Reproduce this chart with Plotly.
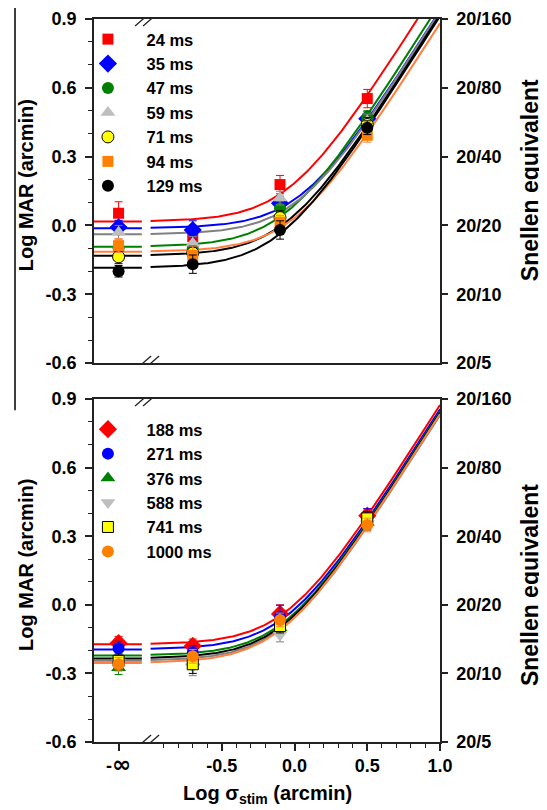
import numpy as np
import plotly.graph_objects as go

# ---------------- data ----------------
x_points = [-1.21, -0.70, -0.10, 0.50]          # first point plotted at the "-inf" position
x_tickvals = [-1.21, -0.5, 0.0, 0.5, 1.0]
x_ticktext = ["-<span style=\"font-family:DejaVu Sans;font-size:23px\">\u221e</span>",
              "-0.5", "0.0", "0.5", "1.0"]
x_minor = [-0.9, -0.8, -0.7, -0.6, -0.4, -0.3, -0.2, -0.1, 0.1, 0.2, 0.3, 0.4,
           0.6, 0.7, 0.8, 0.9]
y_tickvals = [-0.6, -0.3, 0.0, 0.3, 0.6, 0.9]
y_ticktext = ["-0.6", "-0.3", "0.0", "0.3", "0.6", "0.9"]
y_minor = [-0.5, -0.4, -0.2, -0.1, 0.1, 0.2, 0.4, 0.5, 0.7, 0.8]
snellen_denoms = [5, 10, 20, 40, 80, 160]
snellen_text = ["20/5", "20/10", "20/20", "20/40", "20/80", "20/160"]

# top panel (short durations)
top_names = ["24 ms", "35 ms", "47 ms", "59 ms", "71 ms", "94 ms", "129 ms"]
top_24 = [0.053, -0.049, 0.178, 0.553]
top_35 = [-0.008, -0.020, 0.097, 0.465]
top_47 = [-0.100, -0.100, 0.075, 0.470]
top_59 = [-0.030, -0.078, 0.119, 0.455]
top_71 = [-0.137, -0.120, 0.034, 0.440]
top_94 = [-0.088, -0.130, 0.014, 0.393]
top_129 = [-0.200, -0.169, -0.020, 0.426]
top_err_24 = [0.05, 0.03, 0.04, 0.04]
top_err_35 = [0.03, 0.04, 0.03, 0.03]
top_err_47 = [0.03, 0.03, 0.03, 0.03]
top_err_59 = [0.03, 0.03, 0.03, 0.03]
top_err_71 = [0.03, 0.03, 0.03, 0.03]
top_err_94 = [0.03, 0.04, 0.03, 0.03]
top_err_129 = [0.025, 0.04, 0.04, 0.03]
# fit parameters: floor (log MAR at sigma=0) and log10 slope factor
top_fit_floor = [0.017, -0.012, -0.093, -0.039, -0.132, -0.115, -0.185]
top_fit_logk = [0.050, -0.066, -0.035, -0.069, -0.082, -0.121, -0.089]

# bottom panel (long durations)
bot_names = ["188 ms", "271 ms", "376 ms", "588 ms", "741 ms", "1000 ms"]
bot_188 = [-0.168, -0.180, -0.040, 0.390]
bot_271 = [-0.190, -0.210, -0.052, 0.380]
bot_376 = [-0.275, -0.250, -0.100, 0.360]
bot_588 = [-0.250, -0.270, -0.132, 0.355]
bot_741 = [-0.245, -0.260, -0.093, 0.378]
bot_1000 = [-0.260, -0.225, -0.066, 0.349]
bot_err_188 = [0.03, 0.03, 0.04, 0.03]
bot_err_271 = [0.03, 0.03, 0.05, 0.04]
bot_err_376 = [0.03, 0.03, 0.03, 0.03]
bot_err_588 = [0.03, 0.04, 0.03, 0.03]
bot_err_741 = [0.03, 0.04, 0.03, 0.03]
bot_err_1000 = [0.03, 0.03, 0.03, 0.03]
bot_fit_floor = [-0.173, -0.195, -0.222, -0.245, -0.235, -0.255]
bot_fit_logk = [-0.128, -0.147, -0.157, -0.172, -0.162, -0.167]

# ---------------- styles ----------------
X_RANGE = [-1.379, 1.0]
Y_RANGE = [-0.6, 0.9]
BREAK_X = -1.014          # axis break (between -inf and finite values)
GAP_L, GAP_R = -1.05, -0.99
FONT = "Liberation Sans, Arial, sans-serif"
AX = "#222222"
PAD = "\u00a0"            # extra gap between legend symbol and label

top_styles = [
    dict(symbol="square", color="#FF0000", line="#FF0000", size=11, edge=None),
    dict(symbol="diamond", color="#0000FF", line="#0000FF", size=14, edge=None),
    dict(symbol="circle", color="#008000", line="#008000", size=12, edge=None),
    dict(symbol="triangle-up", color="#BEBEBE", line="#808080", size=13, edge=None),
    dict(symbol="circle", color="#FFFF00", line="#000000", size=12, edge="#000000"),
    dict(symbol="square", color="#FF8000", line="#FF8040", size=11, edge=None),
    dict(symbol="circle", color="#000000", line="#000000", size=12, edge=None),
]
bot_styles = [
    dict(symbol="diamond", color="#FF0000", line="#FF0000", size=14, edge=None),
    dict(symbol="circle", color="#0000FF", line="#0000FF", size=12, edge=None),
    dict(symbol="triangle-up", color="#008000", line="#008000", size=13, edge=None),
    dict(symbol="triangle-down", color="#BEBEBE", line="#808080", size=13, edge=None),
    dict(symbol="square", color="#FFFF00", line="#000000", size=11, edge="#000000"),
    dict(symbol="circle", color="#FF8000", line="#FF8040", size=12, edge=None),
]

top_vals = [top_24, top_35, top_47, top_59, top_71, top_94, top_129]
top_errs = [top_err_24, top_err_35, top_err_47, top_err_59, top_err_71, top_err_94, top_err_129]
bot_vals = [bot_188, bot_271, bot_376, bot_588, bot_741, bot_1000]
bot_errs = [bot_err_188, bot_err_271, bot_err_376, bot_err_588, bot_err_741, bot_err_1000]


def fit(floor, logk, xs):
    xs = np.asarray(xs)
    return 0.5 * np.log10(10 ** (2 * floor) + 10 ** (2 * logk) * 10 ** (2 * xs))


fig = go.Figure()


def add_panel(vals, errs, names, styles, floors, logks, xa, ya, yright, legend):
    xs_fit = np.linspace(GAP_R, X_RANGE[1], 200)
    for f, k, st in zip(floors, logks, styles):
        fig.add_trace(go.Scatter(x=[X_RANGE[0], GAP_L], y=[f, f], mode="lines",
                                 line=dict(color=st["line"], width=2),
                                 xaxis=xa, yaxis=ya, showlegend=False, hoverinfo="skip"))
        fig.add_trace(go.Scatter(x=xs_fit, y=fit(f, k, xs_fit), mode="lines",
                                 line=dict(color=st["line"], width=2),
                                 xaxis=xa, yaxis=ya, showlegend=False, hoverinfo="skip"))
    for i, (v, e, n, st) in enumerate(zip(vals, errs, names, styles)):
        ecol = "#000000" if st["edge"] else st["line"]
        fig.add_trace(go.Scatter(
            x=x_points, y=v, mode="markers", name=PAD + n, legend=legend, legendrank=i + 1,
            marker=dict(symbol=st["symbol"], color=st["color"], size=st["size"],
                        line=dict(color=st["edge"] or st["color"], width=1 if st["edge"] else 0)),
            error_y=dict(type="data", array=e, color=ecol, thickness=1, width=4),
            xaxis=xa, yaxis=ya))
    # invisible copy on the Snellen axis so that axis gets drawn
    fig.add_trace(go.Scatter(x=x_points, y=vals[0], mode="markers", marker=dict(opacity=0),
                             xaxis=xa, yaxis=yright, showlegend=False, hoverinfo="skip"))


add_panel(top_vals, top_errs, top_names, top_styles, top_fit_floor, top_fit_logk,
          "x2", "y2", "y4", "legend")
add_panel(bot_vals, bot_errs, bot_names, bot_styles, bot_fit_floor, bot_fit_logk,
          "x", "y", "y3", "legend2")

tickfont = dict(family=FONT, size=18, color="#000000", weight="bold")
legfont = dict(family=FONT, size=16.5, color="#000000", weight="bold")

xcommon = dict(range=X_RANGE, showline=True, linecolor=AX, linewidth=1.5, mirror=True,
               showgrid=False, zeroline=False)
ycommon = dict(range=Y_RANGE, showline=True, linecolor=AX, linewidth=1.5, mirror=True,
               showgrid=False, zeroline=False, tickmode="array", tickvals=y_tickvals,
               ticktext=y_ticktext, ticks="outside", ticklen=7, tickwidth=1.5, tickcolor=AX,
               tickfont=tickfont, ticklabelstandoff=5,
               minor=dict(tickmode="array", tickvals=y_minor, ticks="outside", ticklen=4,
                          tickwidth=1.2, tickcolor=AX))
snellen_vals = [round(float(np.log10(d / 20)), 1) for d in snellen_denoms]
rcommon = dict(range=Y_RANGE, showline=True, linecolor=AX, linewidth=1.5, showgrid=False,
               zeroline=False, side="right", tickmode="array", tickvals=snellen_vals,
               ticktext=snellen_text, ticks="outside", ticklen=6, tickwidth=1.5, tickcolor=AX,
               tickfont=tickfont, ticklabelstandoff=5)

# the page body adds an 8px margin, so the figure is 8px smaller than the window
fig.update_layout(
    width=539, height=802,
    margin=dict(l=86, r=107, t=11, b=68, autoexpand=False),
    paper_bgcolor="white", plot_bgcolor="white",
    font=dict(family=FONT, color="#000000"),
    xaxis=dict(**xcommon, anchor="y", domain=[0, 1], tickmode="array", tickvals=x_tickvals,
               ticktext=x_ticktext, ticks="outside", ticklen=7, tickwidth=1.5, tickcolor=AX,
               tickfont=tickfont,
               minor=dict(tickmode="array", tickvals=x_minor, ticks="outside", ticklen=4,
                          tickwidth=1.2, tickcolor=AX)),
    xaxis2=dict(**xcommon, anchor="y2", domain=[0, 1], showticklabels=False, ticks=""),
    yaxis=dict(**ycommon, anchor="x", domain=[0, 0.4744]),
    yaxis2=dict(**ycommon, anchor="x2", domain=[0.5242, 1]),
    yaxis3=dict(**rcommon, overlaying="y", anchor="x"),
    yaxis4=dict(**rcommon, overlaying="y2", anchor="x2"),
    legend=dict(x=-0.058, y=0.996, xanchor="left", yanchor="top", itemwidth=58,
                font=legfont, bgcolor="rgba(0,0,0,0)", borderwidth=0, tracegroupgap=0),
    legend2=dict(x=-0.058, y=0.4565, xanchor="left", yanchor="top", itemwidth=58,
                 font=legfont, bgcolor="rgba(0,0,0,0)", borderwidth=0, tracegroupgap=0),
    showlegend=True,
)

# axis titles
title_font = dict(family=FONT, size=20, color="#000000", weight="bold")
ann = []
for yc in (0.770, 0.245):
    ann.append(dict(text="Log MAR (arcmin)", xref="paper", yref="paper", x=-0.1965, y=yc,
                    textangle=-90, showarrow=False, font=title_font,
                    xanchor="center", yanchor="middle"))
for yc in (0.777, 0.217):
    ann.append(dict(text="Snellen equivalent", xref="paper", yref="paper", x=1.26, y=yc,
                    textangle=-90, showarrow=False,
                    font=dict(family=FONT, size=23, color="#000000", weight="bold"),
                    xanchor="center", yanchor="middle"))
ann.append(dict(text="Log \u03c3<sub>stim</sub> (arcmin)", xref="paper", yref="paper",
                x=0.501, y=-0.0733, showarrow=False, font=title_font,
                xanchor="center", yanchor="middle"))
fig.update_layout(annotations=ann)

# axis-break marks "//"
shapes = []
for xr, yr, yv in (("x2", "y2", Y_RANGE[1]), ("x2", "y2", Y_RANGE[0]),
                   ("x", "y", Y_RANGE[1]), ("x", "y", Y_RANGE[0])):
    shapes.append(dict(type="line", xref=xr, yref=yr, xsizemode="pixel", ysizemode="pixel",
                       xanchor=BREAK_X, yanchor=yv, x0=-4, x1=4, y0=0, y1=0,
                       line=dict(color="white", width=4), layer="above"))
    for dx in (-4, 4):
        shapes.append(dict(type="line", xref=xr, yref=yr, xsizemode="pixel", ysizemode="pixel",
                           xanchor=BREAK_X, yanchor=yv, x0=dx - 8, x1=dx + 8, y0=-7, y1=7,
                           line=dict(color=AX, width=1.3), layer="above"))
# stray vertical rule at the left edge of the original figure
shapes.append(dict(type="line", xref="paper", yref="paper", x0=-0.2283, x1=-0.2283,
                   y0=0.459, y1=1.03, line=dict(color="#000000", width=1.5)))
fig.update_layout(shapes=shapes)

fig.write_html("out.html")
